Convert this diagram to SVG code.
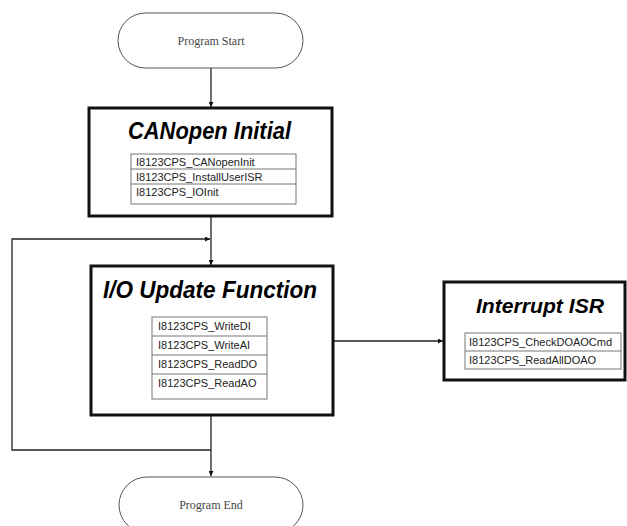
<svg xmlns="http://www.w3.org/2000/svg" width="627" height="526" viewBox="0 0 627 526">
<style>
.term{fill:#fff;stroke:#555;stroke-width:1}
.box{fill:#fff;stroke:#111;stroke-width:3}
.tbl{fill:#fff;stroke:#777;stroke-width:1}
.ttl{font-family:"Liberation Sans",Arial,sans-serif;font-weight:bold;font-style:italic;fill:#000}
.cell{font-family:"Liberation Sans",Arial,sans-serif;font-size:11px;fill:#222}
.tt{font-family:"Liberation Serif","Times New Roman",serif;font-size:12px;fill:#444}
.ln{fill:none;stroke:#222;stroke-width:1.3}
</style>
<defs>
<marker id="ah" viewBox="0 0 10 10" refX="10" refY="5" markerWidth="5" markerHeight="5" markerUnits="userSpaceOnUse" orient="auto">
<path d="M0,0 L10,5 L0,10 z" fill="#111"/>
</marker>
</defs>
<rect width="627" height="526" fill="#fff"/>
<g id="connectors">
<line class="ln" x1="211" y1="68" x2="211" y2="107" marker-end="url(#ah)"/>
<line class="ln" x1="211" y1="216" x2="211" y2="265" marker-end="url(#ah)"/>
<polyline class="ln" points="211,450 12,450 12,239 210,239" marker-end="url(#ah)"/>
<line class="ln" x1="211" y1="415" x2="211" y2="476" marker-end="url(#ah)"/>
<line class="ln" x1="333" y1="341" x2="443" y2="341" marker-end="url(#ah)"/>
</g>
<g id="start">
<rect class="term" x="118" y="13" width="185" height="55" rx="27.5"/>
<text class="tt" x="211" y="45" text-anchor="middle">Program Start</text>
</g>
<g id="canopen-initial">
<rect class="box" x="89" y="108" width="243" height="108"/>
<text class="ttl" x="209.5" y="139" font-size="24" text-anchor="middle" textLength="163" lengthAdjust="spacingAndGlyphs">CANopen Initial</text>
<rect class="tbl" x="131" y="154" width="165" height="50"/>
<line class="tbl" x1="131" y1="169" x2="296" y2="169"/>
<line class="tbl" x1="131" y1="184" x2="296" y2="184"/>
<text class="cell" x="136" y="166">I8123CPS_CANopenInit</text>
<text class="cell" x="136" y="181">I8123CPS_InstallUserISR</text>
<text class="cell" x="136" y="196">I8123CPS_IOInit</text>
</g>
<g id="io-update">
<rect class="box" x="91" y="266" width="242" height="149"/>
<text class="ttl" x="210" y="298" font-size="23" text-anchor="middle" textLength="214" lengthAdjust="spacingAndGlyphs">I/O Update Function</text>
<rect class="tbl" x="152" y="317" width="115" height="82"/>
<line class="tbl" x1="152" y1="336" x2="267" y2="336"/>
<line class="tbl" x1="152" y1="355" x2="267" y2="355"/>
<line class="tbl" x1="152" y1="374" x2="267" y2="374"/>
<text class="cell" x="158" y="330">I8123CPS_WriteDI</text>
<text class="cell" x="158" y="349">I8123CPS_WriteAI</text>
<text class="cell" x="158" y="368">I8123CPS_ReadDO</text>
<text class="cell" x="158" y="387">I8123CPS_ReadAO</text>
</g>
<g id="interrupt-isr">
<rect class="box" x="444" y="282" width="181" height="98"/>
<text class="ttl" x="540" y="313" font-size="20" text-anchor="middle" textLength="128" lengthAdjust="spacingAndGlyphs">Interrupt ISR</text>
<rect class="tbl" x="465" y="333" width="156" height="36"/>
<line class="tbl" x1="465" y1="351" x2="621" y2="351"/>
<text class="cell" x="469" y="346">I8123CPS_CheckDOAOCmd</text>
<text class="cell" x="469" y="364">I8123CPS_ReadAllDOAO</text>
</g>
<g id="end">
<rect class="term" x="119" y="477" width="184" height="56" rx="28"/>
<text class="tt" x="211" y="509" text-anchor="middle">Program End</text>
</g>
</svg>
